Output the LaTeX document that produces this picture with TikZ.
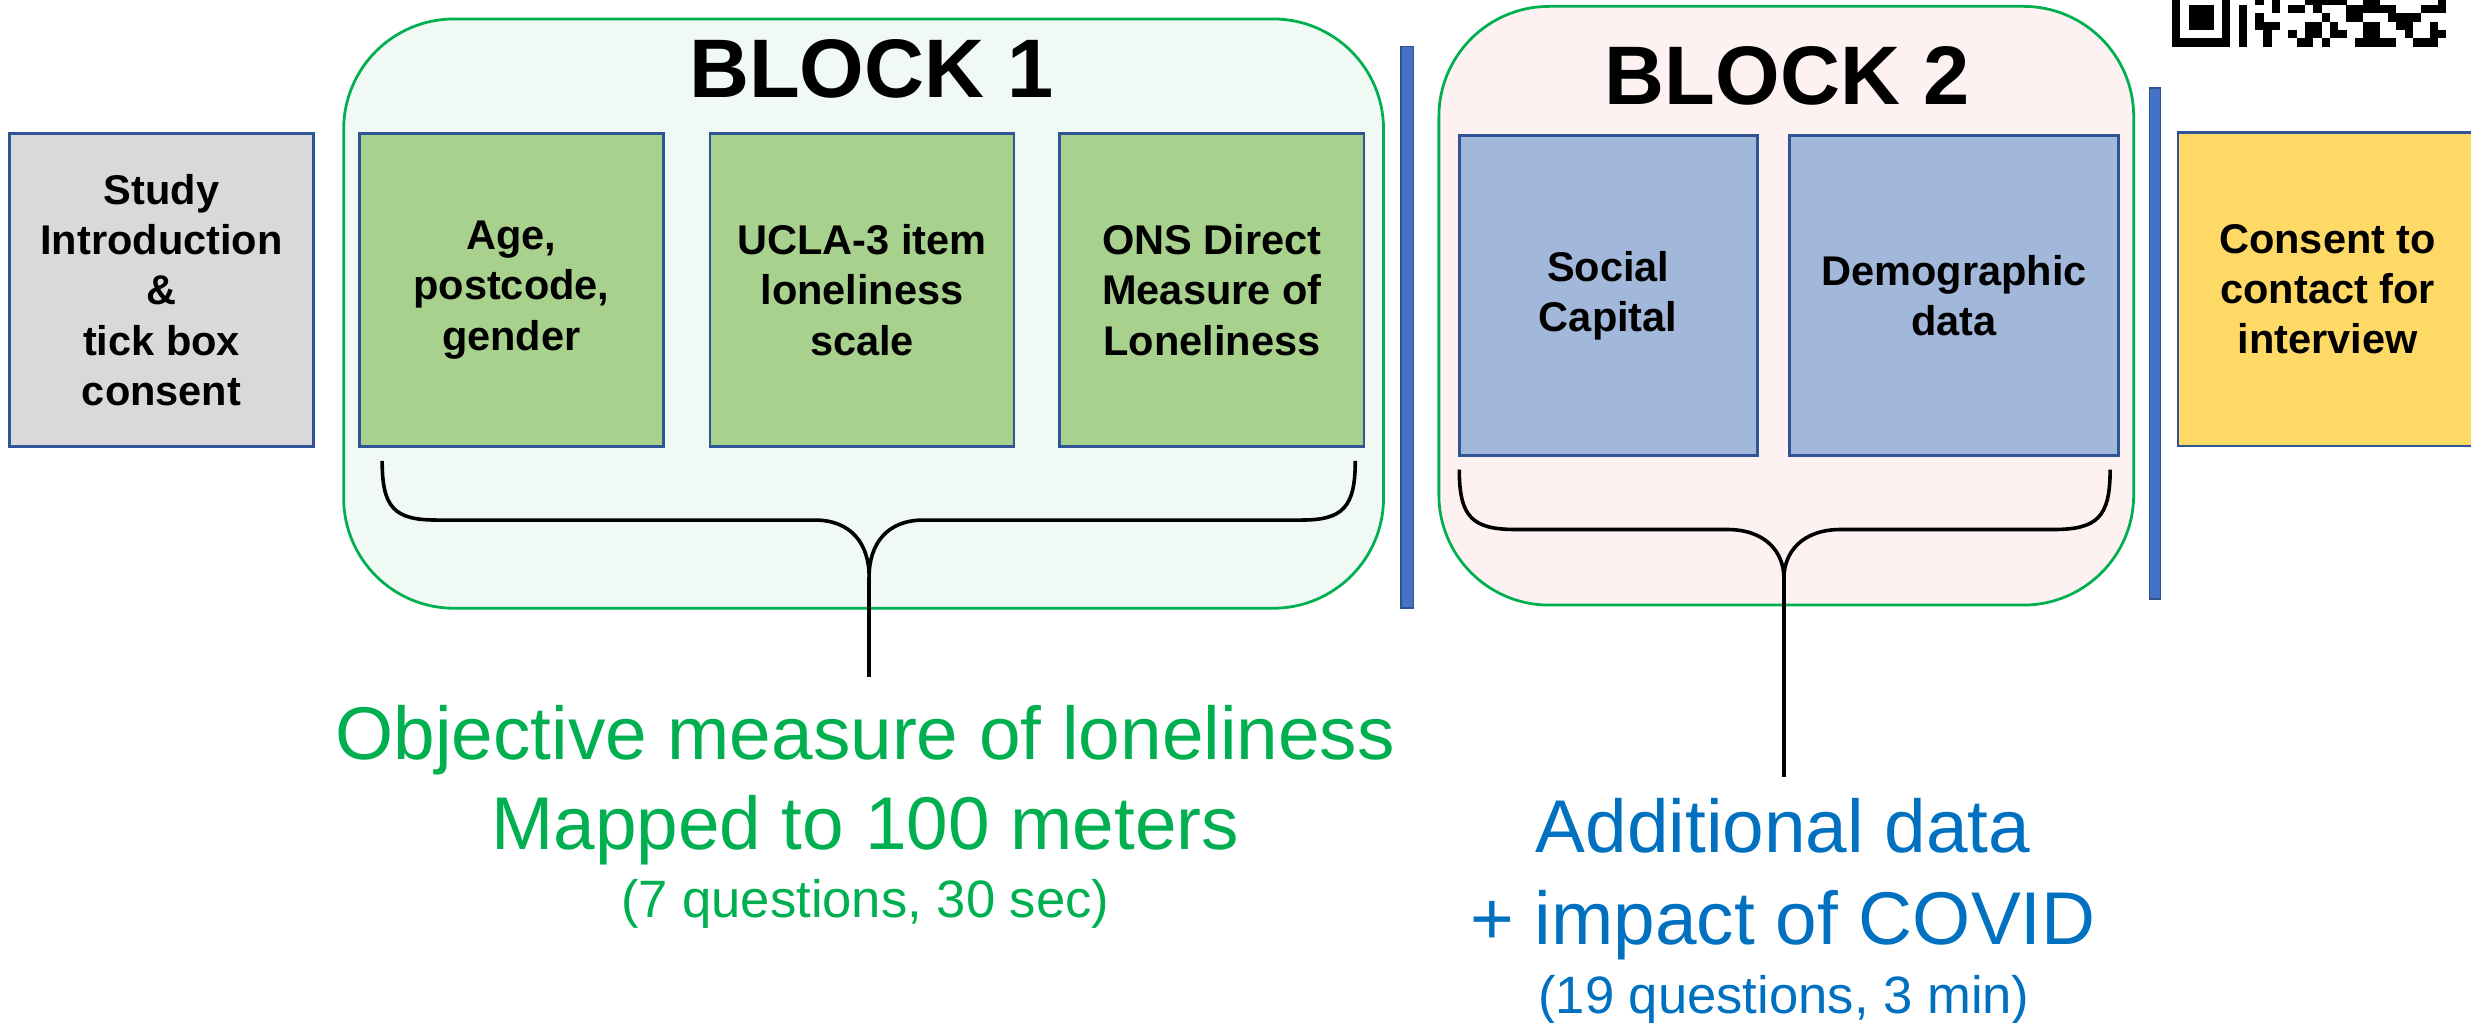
\documentclass[tikz,border=0pt]{standalone}
\usepackage{fontspec}
\setmainfont{Liberation Sans}
\usetikzlibrary{positioning, calc, backgrounds}

\definecolor{boxedge}{RGB}{47,85,151}
\definecolor{introgray}{RGB}{217,217,217}
\definecolor{blockgreen}{RGB}{169,209,142}
\definecolor{blockblue}{RGB}{162,184,218}
\definecolor{consentyellow}{RGB}{255,217,102}
\definecolor{framegreen}{RGB}{0,176,80}
\definecolor{mintfill}{RGB}{240,249,243}
\definecolor{pinkfill}{RGB}{254,241,241}
\definecolor{barblue}{RGB}{68,114,196}
\definecolor{bartrim}{RGB}{47,82,143}
\definecolor{textgreen}{RGB}{0,176,80}
\definecolor{textblue}{RGB}{0,112,192}

\begin{document}
\begin{tikzpicture}[x=0.02cm, y=-0.02cm,
    box/.style={draw=boxedge, line width=1pt, minimum width=3.86cm, minimum height=3.98cm, align=center, inner sep=2pt, font=\fontsize{15}{18.2}\selectfont\bfseries},
    intro/.style={box, fill=introgray},
    measure/.style={box, fill=blockgreen},
    extra/.style={box, fill=blockblue},
    consent/.style={box, fill=consentyellow},
    block/.style={draw=framegreen, line width=1pt, rounded corners=1.4cm, inner sep=0pt},
    title/.style={font=\fontsize{30}{36}\selectfont\bfseries, anchor=base},
    divider/.style={draw=bartrim, fill=barblue, line width=0.6pt},
    brace/.style={line width=1.3pt, line join=round},
    bigtext/.style={font=\fontsize{27}{32}\selectfont, anchor=base, inner sep=0pt},
    smalltext/.style={font=\fontsize{19}{23}\selectfont, anchor=base, inner sep=0pt},
]
\useasboundingbox (0,0) rectangle (1568,649);

% Intro and consent steps
\node[intro] (intro) at (102.5,184) {Study\\Introduction\\\&\\tick box\\consent};
\node[consent, minimum width=3.8cm] (consent) at (1477,183.5) {Consent to\\contact for\\interview};

% Block 1
\node[measure] (age) at (324.5,184) {Age,\\postcode,\\gender};
\node[measure] (ucla) at (547,184) {UCLA-3 item\\loneliness\\scale};
\node[measure] (ons) at (769,184) {ONS Direct\\Measure of\\Loneliness};
\node[title] (title1) at (553,62) {BLOCK 1};

% Block 2
\node[extra, minimum width=3.78cm, minimum height=4.06cm] (social) at (1020.5,187.5) {Social\\Capital};
\node[extra, minimum width=4.18cm, minimum height=4.06cm] (demog) at (1240,187.5) {Demographic\\data};
\node[title] (title2) at (1134,66) {BLOCK 2};

% Dividers between blocks
\filldraw[divider] (889,29.6) rectangle (897,386);
\filldraw[divider] (1364,56) rectangle (1371,380);

% Braces
\coordinate (tip1) at (551.5,366);
\coordinate (foot1) at (551.5,429.6);
\draw[brace] (242.5,292.5) .. controls (242.5,322) and (250,330) .. (277,330) -- (517,330)
    .. controls (540,330) and (551.5,345) .. (tip1)
    .. controls (551.5,345) and (563,330) .. (586,330) -- (826,330)
    .. controls (852,330) and (860,322) .. (860,292.5);
\draw[brace] (tip1) -- (foot1);

\coordinate (tip2) at (1132,367);
\coordinate (foot2) at (1132,493);
\draw[brace] (926,298) .. controls (926,328) and (934,336) .. (962,336) -- (1096,336)
    .. controls (1120,336) and (1132,350) .. (tip2)
    .. controls (1132,350) and (1144,336) .. (1168,336) -- (1303,336)
    .. controls (1331,336) and (1339,328) .. (1339,298);
\draw[brace] (tip2) -- (foot2);

% Outcome texts
\node[bigtext, text=textgreen] (objline) at (549,481.7) {Objective measure of loneliness};
\node[bigtext, text=textgreen] (mapline) at (549,539.3) {Mapped to 100 meters};
\node[smalltext, text=textgreen] (time1) at (549,582) {(7 questions, 30 sec)};

\node[bigtext, text=textblue] (addline) at (1131.5,541) {Additional data};
\node[bigtext, text=textblue] (covidline) at (1131.5,599.6) {+ impact of COVID};
\node[smalltext, text=textblue] (time2) at (1132,643) {(19 questions, 3 min)};

% QR code (bottom rows)
\begin{scope}
    \clip (0,0) rectangle (1568,649);
    \fill (1378.3,29.6) rectangle ++(36.9,-36.9);
    \fill[white] (1383.57,24.33) rectangle ++(26.35,-26.35);
    \fill (1388.84,19.06) rectangle ++(15.81,-15.81);
    \foreach \r/\cols in {5/{10,12,16,17,18,19,20,23,24,32},
                          4/{8,12,14,15,17,21,22,23,24,25,26,30,31,32},
                          3/{8,10,18,21,22,26,27,28,29},
                          2/{8,10,11,12,16,17,19,23,24,27,28,31},
                          1/{8,11,14,16,17,19,20,23,24,28,31,32},
                          0/{8,11,15,16,18,22,23,24,25,26,29,30,31}}
        \foreach \c in \cols
            \fill (1378.3+\c*5.27, 29.6-\r*5.27) rectangle ++(5.35,-5.35);
\end{scope}

% Block frames
\begin{scope}[on background layer]
    \node[block, fill=mintfill, minimum width=13.2cm, minimum height=7.48cm] (block1) at (548,199) {};
    \node[block, fill=pinkfill, minimum width=8.82cm, minimum height=7.6cm] (block2) at (1133.5,194) {};
\end{scope}

\end{tikzpicture}
\end{document}
